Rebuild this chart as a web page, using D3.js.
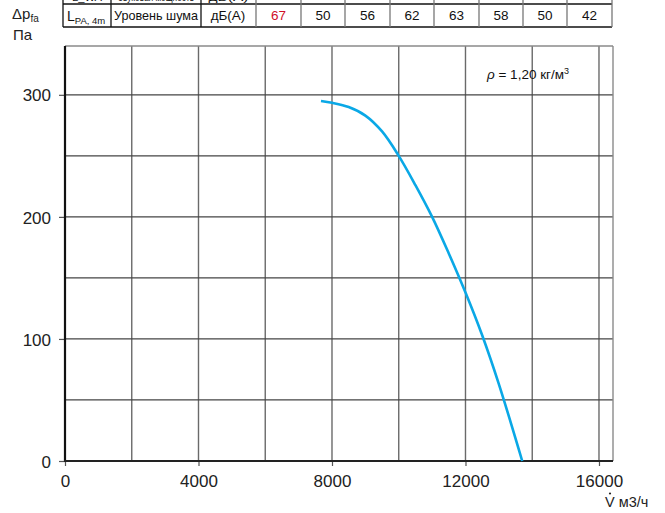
<!DOCTYPE html>
<html><head><meta charset="utf-8">
<script src="https://cdn.jsdelivr.net/npm/d3@7"></script>
<style>body{margin:0;background:#fff}svg{display:block;font-family:"Liberation Sans",Arial,sans-serif}</style>
</head><body><svg id="c" width="665" height="513"></svg>
<script>
// Data
const xTicks = [0, 4000, 8000, 12000, 16000];
const yTicks = [0, 100, 200, 300];
const flow = [7670, 8000, 8500, 9000, 9500, 10000, 10500, 11000, 11500, 12000, 12500, 13000, 13700];
const pressure = [295, 293.5, 290, 283, 270, 250, 226, 200, 170, 138, 103, 63, 0];
const noiseLabels = ["L_PA,4m", "Уровень шума", "дБ(А)"];
const noiseValues = [67, 50, 56, 62, 63, 58, 50, 42];
const topRowLabels = ["L_WA", "Звуковая мощность", "дБ(А)"];

const svg = d3.select("#c");
const x = d3.scaleLinear().domain([0, 16420]).range([65, 613]);
const y = d3.scaleLinear().domain([0, 340]).range([461, 46]);

// grid
const g = svg.append("g");
g.selectAll(".vg").data(d3.range(2000, 16001, 2000)).join("line")
  .attr("x1", d => x(d)).attr("x2", d => x(d)).attr("y1", y(340)).attr("y2", y(0))
  .attr("stroke", "#6a6a6a").attr("stroke-width", 1.4);
g.selectAll(".hg").data(d3.range(50, 341, 50)).join("line")
  .attr("x1", x(0)).attr("x2", x(16420)).attr("y1", d => y(d)).attr("y2", d => y(d))
  .attr("stroke", "#444").attr("stroke-width", 1.3);
g.append("line").attr("x1", x(16420)).attr("x2", x(16420)).attr("y1", y(340)).attr("y2", y(0))
  .attr("stroke", "#8a8a8a").attr("stroke-width", 1.4);
g.append("line").attr("x1", x(0)).attr("x2", x(16420)).attr("y1", y(340)).attr("y2", y(340))
  .attr("stroke", "#8a8a8a").attr("stroke-width", 1.4);

// axes
const xAxis = d3.axisBottom(x).tickValues(xTicks).tickFormat(d3.format("d")).tickSize(5).tickSizeOuter(0).tickPadding(6);
const yAxis = d3.axisLeft(y).tickValues(yTicks).tickFormat(d3.format("d")).tickSize(6).tickSizeOuter(0).tickPadding(8);
const gx = svg.append("g").attr("transform", `translate(0,${y(0)})`).call(xAxis);
const gy = svg.append("g").attr("transform", `translate(${x(0)},0)`).call(yAxis);
[gx, gy].forEach(a => {
  a.select(".domain").remove();
  a.selectAll("line").attr("stroke", "#555").attr("stroke-width", 1.2);
  a.selectAll("text").attr("font-size", 17).attr("fill", "#222").attr("font-family", '"Liberation Sans",Arial,sans-serif');
});
gx.selectAll("text").attr("dy", "0.9em");
gy.selectAll("text").attr("dy", "0.36em");
svg.append("line").attr("x1", x(0)).attr("x2", x(0)).attr("y1", y(340)).attr("y2", y(0) + 1)
  .attr("stroke", "#111").attr("stroke-width", 2.2);
svg.append("line").attr("x1", x(0) - 1).attr("x2", x(16420)).attr("y1", y(0)).attr("y2", y(0))
  .attr("stroke", "#222").attr("stroke-width", 2);

// curve
const pts = flow.map((f, i) => [f, pressure[i]]);
svg.append("path").datum(pts)
  .attr("d", d3.line().x(d => x(d[0])).y(d => y(d[1])).curve(d3.curveCatmullRom.alpha(0.5)))
  .attr("fill", "none").attr("stroke", "#0aa8e6").attr("stroke-width", 2.6);

// annotation rho
const rt = svg.append("text").attr("x", 487).attr("y", 79).attr("font-size", 13.5).attr("fill", "#111");
rt.append("tspan").attr("font-style", "italic").text("ρ");
rt.append("tspan").text(" = 1,20 кг/м");
rt.append("tspan").attr("font-size", 9).attr("dy", -5).text("3");

// axis titles
const yt = svg.append("text").attr("x", 12).attr("y", 19).attr("font-size", 15).attr("fill", "#222");
yt.append("tspan").text("Δp");
yt.append("tspan").attr("font-size", 10).attr("dy", 3).text("fa");
svg.append("text").attr("x", 13).attr("y", 40).attr("font-size", 15).attr("fill", "#222").text("Па");
const xt = svg.append("text").attr("x", 605).attr("y", 507).attr("font-size", 14.5).attr("fill", "#222");
xt.append("tspan").text("V");
xt.append("tspan").text(" м3/ч");
svg.append("circle").attr("cx", 610).attr("cy", 493.5).attr("r", 1.1).attr("fill", "#222");

// table
const cols = [63, 111, 201, 256, 301, 345, 390, 434, 479, 523, 567, 612];
const rowTop = 4, rowBot = 27;
const tb = svg.append("g");
tb.append("line").attr("x1", cols[0]).attr("x2", cols[cols.length - 1]).attr("y1", rowTop).attr("y2", rowTop).attr("stroke", "#111").attr("stroke-width", 1.3);
tb.append("line").attr("x1", cols[0]).attr("x2", cols[cols.length - 1]).attr("y1", rowBot).attr("y2", rowBot).attr("stroke", "#111").attr("stroke-width", 1.3);
tb.selectAll(".cl").data(cols).join("line")
  .attr("x1", d => d).attr("x2", d => d).attr("y1", 0).attr("y2", rowBot)
  .attr("stroke", (d, i) => i >= 3 ? "#777" : "#111").attr("stroke-width", 1.3);
// top row (clipped at the top edge, as in the source)
const topW = [30, 76, 40];
topRowLabels.forEach((t, i) => {
  tb.append("text").attr("x", (cols[i] + cols[i + 1]) / 2).attr("y", 1).attr("text-anchor", "middle")
    .attr("font-size", 11).attr("fill", "#111")
    .attr("textLength", topW[i]).attr("lengthAdjust", "spacingAndGlyphs").text(t);
});
// bottom row
const lt = tb.append("text").attr("x", 67).attr("y", 21).attr("font-size", 14).attr("fill", "#111");
lt.append("tspan").text("L");
lt.append("tspan").attr("font-size", 9.5).attr("dy", 3).text("PA, 4m");
tb.append("text").attr("x", 156).attr("y", 20).attr("text-anchor", "middle").attr("font-size", 13).attr("fill", "#111")
  .attr("textLength", 84).attr("lengthAdjust", "spacingAndGlyphs").text(noiseLabels[1]);
tb.append("text").attr("x", 228).attr("y", 20).attr("text-anchor", "middle").attr("font-size", 13.5).attr("fill", "#111").text(noiseLabels[2]);
noiseValues.forEach((v, i) => {
  tb.append("text").attr("x", (cols[i + 3] + cols[i + 4]) / 2).attr("y", 20).attr("text-anchor", "middle")
    .attr("font-size", 13.5).attr("fill", i === 0 ? "#d0102a" : "#111").text(v);
});
</script></body></html>
